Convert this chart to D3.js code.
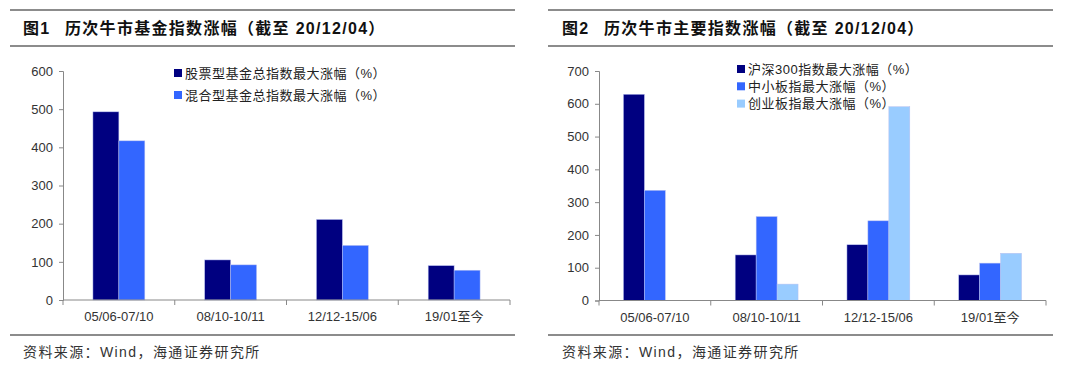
<!DOCTYPE html>
<html lang="zh">
<head>
<meta charset="UTF-8">
<title>历次牛市涨幅</title>
<script src="https://cdn.jsdelivr.net/npm/d3@7"></script>
<style>
  body { margin: 0; background: #fff; }
  text { font-family: "Liberation Sans", Arial, "Noto Sans CJK SC", sans-serif; }
  .cjk { font-family: "Liberation Sans", "Noto Sans CJK SC", sans-serif; }
  .title { font-size: 16px; font-weight: bold; fill: #111; letter-spacing: 1.3px; }
  .tick-label { font-size: 13px; fill: #333; }
  .source { font-size: 14px; fill: #333; letter-spacing: 1.4px; }
  .legend { font-size: 13px; fill: #222; letter-spacing: 0.5px; }
</style>
</head>
<body>
<script>
// categories (bull market periods)
var periods = ["05/06-07/10", "08/10-10/11", "12/12-15/06", "19/01至今"];

// figure 1: fund indices
var fundSeries = ["股票型基金总指数最大涨幅（%）", "混合型基金总指数最大涨幅（%）"];
var stockFund = [493, 105, 211, 90];
var mixedFund = [417, 92, 143, 78];
var fundTicks = [0, 100, 200, 300, 400, 500, 600];

// figure 2: major indices
var indexSeries = ["沪深300指数最大涨幅（%）", "中小板指最大涨幅（%）", "创业板指最大涨幅（%）"];
var hs300 = [629, 139, 170, 78];
var smeBoard = [336, 256, 243, 114];
var chinext = [null, 50, 591, 144];
var indexTicks = [0, 100, 200, 300, 400, 500, 600, 700];

var colors = ["#000080", "#3366ff", "#99ccff"];

var W = 1080, H = 365;
var svg = d3.select("body").append("svg")
    .attr("width", W).attr("height", H);

function drawPanel(opt) {
  var g = svg.append("g");

  // frame lines for title and source
  [10, 46, 335].forEach(function(y) {
    g.append("line")
      .attr("x1", opt.frame[0]).attr("x2", opt.frame[1])
      .attr("y1", y).attr("y2", y)
      .attr("stroke", "#666").attr("stroke-width", 1.5);
  });
  g.append("text").attr("class", "title cjk")
    .attr("x", opt.titleX).attr("y", 34)
    .text(opt.figNo);
  g.append("text").attr("class", "title cjk")
    .attr("x", opt.titleX + 42).attr("y", 34)
    .text(opt.title);
  g.append("text").attr("class", "source cjk")
    .attr("x", opt.titleX).attr("y", 357)
    .text("资料来源：Wind，海通证券研究所");

  var x = d3.scaleBand().domain(periods)
      .range(opt.xRange)
      .paddingInner(1 - opt.groupFrac)
      .paddingOuter((1 - opt.groupFrac) / 2);
  var xs = d3.scaleBand().domain(d3.range(opt.nSeries))
      .range([0, x.bandwidth()]);
  var y = d3.scaleLinear().domain(opt.yDomain).range(opt.yRange);

  // y axis
  var yAxis = d3.axisLeft(y).tickValues(opt.ticks).tickSize(4).tickPadding(6);
  var ya = g.append("g").attr("transform", "translate(" + opt.xRange[0] + ",0)").call(yAxis);
  ya.select(".domain").attr("stroke", "#888");
  ya.selectAll(".tick line").attr("stroke", "#888");
  ya.selectAll(".tick text").attr("class", "tick-label").attr("font-size", null).attr("font-family", null);

  // bars
  opt.series.forEach(function(vals, si) {
    g.append("g").selectAll("rect")
      .data(vals.map(function(v, i) { return {cat: periods[i], v: v}; })
                .filter(function(d) { return d.v != null; }))
      .enter().append("rect")
      .attr("x", function(d) { return x(d.cat) + xs(si); })
      .attr("y", function(d) { return y(d.v); })
      .attr("width", xs.bandwidth())
      .attr("height", function(d) { return y(0) - y(d.v); })
      .attr("fill", colors[si])
      .attr("stroke", "#b8c0f0").attr("stroke-width", 0.5);
  });

  // x axis with boundary ticks
  var step = x.step();
  var xa = g.append("g");
  xa.append("line")
    .attr("x1", opt.xRange[0]).attr("x2", opt.xRange[1])
    .attr("y1", y(0)).attr("y2", y(0))
    .attr("stroke", "#888");
  xa.selectAll("line.bt").data(d3.range(periods.length + 1)).enter()
    .append("line").attr("class", "bt")
    .attr("x1", function(i) { return opt.xRange[0] + i * step; })
    .attr("x2", function(i) { return opt.xRange[0] + i * step; })
    .attr("y1", y(0)).attr("y2", y(0) + 5)
    .attr("stroke", "#888");
  xa.selectAll("text").data(periods).enter().append("text")
    .attr("class", "tick-label cjk")
    .attr("text-anchor", "middle")
    .attr("x", function(d) { return x(d) + x.bandwidth() / 2; })
    .attr("y", y(0) + 21)
    .text(function(d) { return d; });

  // legend
  var lg = g.append("g");
  opt.names.forEach(function(n, i) {
    var cy = opt.legend[1] + i * opt.legend[2];
    lg.append("rect")
      .attr("x", opt.legend[0]).attr("y", cy - 4)
      .attr("width", 8).attr("height", 8)
      .attr("fill", colors[i]);
    lg.append("text").attr("class", "legend cjk")
      .attr("x", opt.legend[0] + 11).attr("y", cy + 4.5)
      .text(n);
  });
}

drawPanel({
  frame: [10, 515], titleX: 23, figNo: "图1",
  title: "历次牛市基金指数涨幅（截至 20/12/04）",
  xRange: [63, 510], yRange: [300, 71], yDomain: [0, 600], ticks: fundTicks,
  groupFrac: 52 / 112, nSeries: 2,
  series: [stockFund, mixedFund], names: fundSeries,
  legend: [174, 73, 22]
});

drawPanel({
  frame: [548, 1053], titleX: 562, figNo: "图2",
  title: "历次牛市主要指数涨幅（截至 20/12/04）",
  xRange: [599, 1046], yRange: [300.5, 71], yDomain: [0, 700], ticks: indexTicks,
  groupFrac: 63 / 112, nSeries: 3,
  series: [hs300, smeBoard, chinext], names: indexSeries,
  legend: [737, 69, 17.3]
});
</script>
</body>
</html>
